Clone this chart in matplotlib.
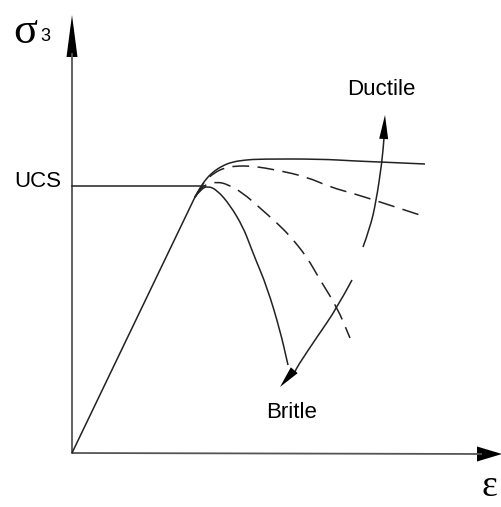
import matplotlib
matplotlib.use("Agg")
import matplotlib.pyplot as plt
from matplotlib.path import Path
from matplotlib.patches import PathPatch

# ---- schematic data (strain, stress in arbitrary units) ----
elastic_strain = [0, 123]
elastic_stress = [0, 256]

ucs = 267
ucs_strain_end = 133

ductile_strain = [123, 128, 134, 141, 150, 160, 173, 188, 248, 283, 308, 353]
ductile_stress = [256, 265, 274, 281, 287, 291, 293, 294, 294, 292, 291, 289]

mild_strain = [123, 128, 134, 142, 152, 163, 180, 205, 235, 258, 283, 305, 351]
mild_stress = [256, 265, 273, 280, 285, 287, 287, 283, 276, 266, 259, 252, 237]

strong_strain = [123, 128, 135, 145, 155, 171, 188, 205, 218, 235, 248, 265, 278]
strong_stress = [256, 264, 269, 271, 269, 260, 245, 230, 217, 196, 173, 146, 115]

brittle_strain = [123, 129, 136, 145, 158, 171, 178, 183, 195, 208, 216]
brittle_stress = [256, 264, 267, 263, 248, 226, 208, 195, 166, 123, 88]

arc_up_strain = [291, 298, 304, 310, 312]
arc_up_stress = [206, 225, 251, 291, 315]
arc_down_strain = [280, 265, 245, 225, 223]
arc_down_stress = [173, 145, 116, 86, 81]

labels = {"ucs": "UCS", "ductile": "Ductile", "brittle": "Britle"}

sans = ["Liberation Sans", "DejaVu Sans"]
serif = ["Liberation Serif", "DejaVu Serif"]

fig = plt.figure(figsize=(5.02, 5.07), dpi=100)
ax = fig.add_axes([0, 0, 1, 1])
ax.set_xlim(-72, 430)
ax.set_ylim(-54, 453)
ax.axis("off")


def smooth(ax, xs, ys, **kw):
    pts = list(zip(xs, ys))
    verts = [pts[0]]
    codes = [Path.MOVETO]
    for i in range(1, len(pts) - 1):
        mid = ((pts[i][0] + pts[i + 1][0]) / 2, (pts[i][1] + pts[i + 1][1]) / 2)
        verts += [pts[i], mid]
        codes += [Path.CURVE3, Path.CURVE3]
    verts.append(pts[-1]); codes.append(Path.LINETO)
    ax.add_patch(PathPatch(Path(verts, codes), fill=False, **kw))


axis_col = "#555555"
ax.plot([0, 0], [0, 400], color=axis_col, lw=1.3, solid_capstyle="butt")
ax.arrow(0, 396, 0, 42, width=0.0, head_width=11, head_length=42,
         length_includes_head=True, color="black", lw=0)
ax.plot([0, 410], [0, -1], color=axis_col, lw=1.3, solid_capstyle="butt")
ax.arrow(405, -1, 25, 0, width=0.0, head_width=15, head_length=25,
         length_includes_head=True, color="black", lw=0)

lc = "#222222"
dash = (0, (11, 5.5))
ax.plot(elastic_strain, elastic_stress, color=lc, lw=1.1)
ax.plot([0, ucs_strain_end], [ucs, ucs], color=lc, lw=1.1)
smooth(ax, ductile_strain, ductile_stress, edgecolor=lc, lw=1.1)
smooth(ax, mild_strain, mild_stress, edgecolor=lc, lw=1.1, linestyle=dash)
smooth(ax, strong_strain, strong_stress, edgecolor=lc, lw=1.1, linestyle=dash)
smooth(ax, brittle_strain, brittle_stress, edgecolor=lc, lw=1.1)

smooth(ax, arc_up_strain, arc_up_stress, edgecolor=lc, lw=1.1)
smooth(ax, arc_down_strain, arc_down_stress, edgecolor=lc, lw=1.1)
ax.arrow(arc_up_strain[-2] + 1.5, arc_up_stress[-2] + 20, 1.5, 27, width=0.0,
         head_width=9, head_length=24, length_includes_head=True, color="black", lw=0)
ax.arrow(arc_down_strain[-2], arc_down_stress[-2], -17, -20, width=0.0,
         head_width=9, head_length=22, length_includes_head=True, color="black", lw=0)

ax.text(-34.5, 266, labels["ucs"], family=sans, fontsize=16, ha="center", va="baseline")
ax.text(309.5, 358, labels["ductile"], family=sans, fontsize=16, ha="center", va="baseline")
ax.text(220, 35, labels["brittle"], family=sans, fontsize=16, ha="center", va="baseline")

ax.text(-59, 410, "σ", family=serif, fontsize=32, ha="left", va="baseline")
ax.text(-32, 412, "3", family=sans, fontsize=13, ha="left", va="baseline")
ax.text(417, -43, "ε", family=serif, fontsize=27, ha="center", va="baseline")

fig.savefig("out.png", dpi=100)
